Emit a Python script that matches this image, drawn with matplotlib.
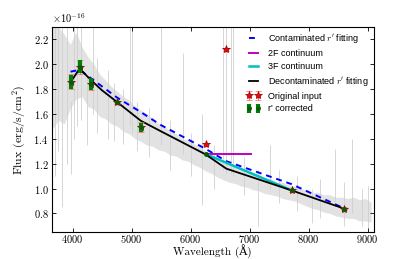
import numpy as np
import matplotlib
matplotlib.use('Agg')
import matplotlib.pyplot as plt

plt.rcParams['font.family'] = ['cmr10', 'DejaVu Serif']
plt.rcParams['mathtext.fontset'] = 'cm'
plt.rcParams['axes.formatter.use_mathtext'] = True

scale = 1e-16

# gray spectrum, read as a lower / upper envelope every 100 A
spec_wl = [3660, 3760, 3860, 3960, 4060, 4160, 4260, 4360, 4460, 4560,
           4660, 4760, 4860, 4960, 5060, 5160, 5260, 5360, 5460, 5560,
           5660, 5760, 5860, 5960, 6060, 6160, 6260, 6360, 6460, 6560,
           6660, 6760, 6860, 6960, 7060, 7160, 7260, 7360, 7460, 7560,
           7660, 7760, 7860, 7960, 8060, 8160, 8260, 8360, 8460, 8560,
           8660, 8760, 8860, 8960, 9060]
spec_lo = [1.48, 1.55, 1.52, 1.64, 1.72, 1.74, 1.66, 1.64, 1.58, 1.56,
           1.52, 1.50, 1.46, 1.44, 1.40, 1.38, 1.35, 1.34, 1.31, 1.30,
           1.27, 1.26, 1.23, 1.22, 1.19, 1.17, 1.14, 1.12, 1.09, 1.07,
           1.05, 1.04, 1.02, 1.01, 0.99, 0.98, 0.96, 0.95, 0.94, 0.92,
           0.91, 0.90, 0.88, 0.86, 0.84, 0.83, 0.81, 0.80, 0.78, 0.77,
           0.76, 0.76, 0.74, 0.74, 0.73]
spec_hi = [2.30, 2.30, 2.24, 2.16, 2.26, 2.14, 2.06, 2.00, 1.92, 1.87,
           1.82, 1.78, 1.74, 1.71, 1.66, 1.63, 1.60, 1.56, 1.52, 1.50,
           1.46, 1.44, 1.40, 1.39, 1.36, 1.34, 1.30, 1.28, 1.24, 1.23,
           1.20, 1.19, 1.16, 1.15, 1.12, 1.11, 1.08, 1.08, 1.05, 1.05,
           1.03, 1.02, 1.00, 0.99, 0.97, 0.97, 0.95, 0.95, 0.93, 0.93,
           0.92, 0.93, 0.91, 0.92, 0.89]

# single spikes (wavelength, bottom, top)
spike_wl = [3700, 3760, 3825, 3900, 3978, 4030, 4080, 4150, 4240, 4353,
            4420, 4600, 4700, 4850, 4971, 5005, 5100, 5300, 5500, 5650,
            5880, 6000, 6200, 6400, 6555, 6600, 6690, 6725, 6900, 7150,
            7340, 7500, 7800, 8050, 8200, 8450, 8600, 8736, 8900, 9000]
spike_lo = [1.10, 1.30, 0.85, 1.20, 1.12, 1.40, 1.50, 1.55, 1.35, 1.60,
            1.45, 1.40, 1.38, 1.36, 1.50, 1.45, 1.30, 1.25, 1.35, 1.15,
            1.28, 1.10, 0.87, 1.00, 1.15, 1.12, 1.12, 1.10, 0.95, 0.70,
            1.00, 0.88, 0.82, 0.72, 0.76, 0.85, 0.70, 0.80, 0.70, 0.68]
spike_hi = [2.30, 2.30, 2.30, 2.30, 1.70, 2.30, 2.30, 2.30, 1.90, 2.30,
            2.05, 1.95, 1.85, 1.80, 2.30, 2.30, 1.70, 1.65, 2.30, 1.55,
            2.09, 1.45, 1.60, 1.35, 2.30, 2.30, 2.30, 2.30, 1.25, 1.15,
            1.35, 1.15, 1.10, 1.00, 1.08, 1.32, 1.05, 1.40, 1.00, 1.02]

# filter photometry
filt_wl = [3966, 4120, 4307, 4760, 5158, 6254, 6606, 7714, 8605]
orig_flux = [1.858, 1.980, 1.840, 1.694, 1.494, 1.358, 2.120, 0.985, 0.838]
orig_err = [0.060, 0.056, 0.050, 0.010, 0.040, 0.010, 0.010, 0.010, 0.010]

corr_wl = [3966, 4120, 4307, 4760, 5158, 6254, 7714, 8605]
corr_flux = [1.858, 1.980, 1.840, 1.694, 1.494, 1.274, 0.985, 0.838]
corr_err = [0.055, 0.052, 0.046, 0.008, 0.036, 0.006, 0.008, 0.008]

# fits
cont_wl = [3966, 4120, 4760, 5158, 5500, 6254, 6606, 7714, 8605]
cont_flux = [1.94, 1.955, 1.73, 1.615, 1.51, 1.32, 1.22, 1.035, 0.84]

decont_wl = [3966, 4120, 4307, 4500, 4760, 5158, 5500, 6254, 6606, 7714, 8605]
decont_flux = [1.855, 1.965, 1.875, 1.79, 1.694, 1.545, 1.46, 1.275, 1.16, 0.985, 0.838]

f2_wl = [6254, 7020]
f2_flux = [1.278, 1.278]
f3_wl = [6254, 7714]
f3_flux = [1.278, 0.985]


def sc(v):
    return np.array(v) * scale


fig = plt.figure(figsize=(4.15, 2.59), dpi=100)
ax = fig.add_axes([0.125, 0.104, 0.775, 0.792])

ax.fill_between(spec_wl, sc(spec_lo), sc(spec_hi), color='#e2e2e2', lw=0, zorder=1)
ax.vlines(spike_wl, sc(spike_lo), sc(spike_hi), color='#d0d0d0', lw=0.6, zorder=1)

l1, = ax.plot(cont_wl, sc(cont_flux), 'b--', lw=1.4, dashes=(3, 2.5), zorder=3)
l2, = ax.plot(f2_wl, sc(f2_flux), color='m', lw=1.4, zorder=3)
l3, = ax.plot(f3_wl, sc(f3_flux), color='c', lw=1.8, zorder=3)
l4, = ax.plot(decont_wl, sc(decont_flux), 'k-', lw=1.3, zorder=4)

e1 = ax.errorbar(filt_wl, sc(orig_flux), yerr=sc(orig_err), fmt='*', color='r',
                 mec='darkred', mew=0.5, ms=6, ecolor='#ff6060', elinewidth=0.7,
                 capsize=2, capthick=0.7, zorder=5)
e2 = ax.errorbar(corr_wl, sc(corr_flux), yerr=sc(corr_err), fmt='o', color='#0a5a0a',
                 ms=2.5, ecolor='green', elinewidth=3, capsize=0, zorder=6)

ax.set_xlim(3650, 9100)
ax.set_ylim(0.65 * scale, 2.3 * scale)
ax.set_xticks([4000, 5000, 6000, 7000, 8000, 9000])
ax.set_yticks(sc([0.8, 1.0, 1.2, 1.4, 1.6, 1.8, 2.0, 2.2]))
ax.tick_params(direction='in', top=True, right=True, labelsize=7.5, length=3,
               width=0.6, pad=2.5)
ax.tick_params(axis='x', pad=1)
ax.yaxis.get_offset_text().set_fontsize(7.5)
for s in ax.spines.values():
    s.set_linewidth(0.8)

ax.set_xlabel(u'Wavelength (\u00c5)', fontsize=8)
ax.xaxis.set_label_coords(0.5, -0.06)
ax.set_ylabel('Flux (erg/s/cm$^2$)', fontsize=8.5, labelpad=4)

leg = ax.legend([l1, l2, l3, l4, e1, e2],
                ["Contaminated $r'$ fitting", '2F continuum', '3F continuum',
                 "Decontaminated $r'$ fitting", 'Original input', "r' corrected"],
                loc='upper right', frameon=False, numpoints=2, handlelength=1.6,
                prop={'family': 'Liberation Sans', 'size': 6.5},
                labelspacing=0.42, borderaxespad=0.2, handletextpad=0.8)

fig.savefig('out.png', dpi=100)
